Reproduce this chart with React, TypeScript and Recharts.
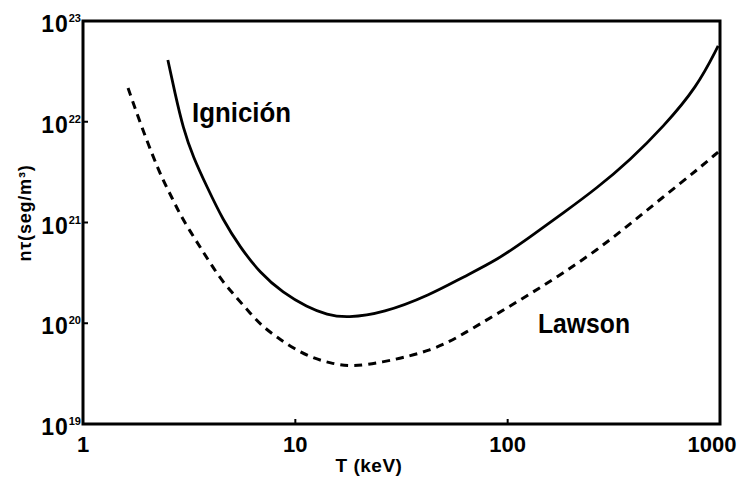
import { LineChart, Line, XAxis, YAxis, ReferenceArea, Label } from "recharts";

// T (keV) and n·tau (seg/m^3)
const ignitionT = [2.51, 2.71, 2.96, 3.3, 3.84, 4.56, 5.49, 6.82, 8.75, 11.36, 14.11, 17.52, 25.9, 43.1, 61.7, 89.2, 127.5, 182.4, 263.8, 377.2, 539.5, 780, 980];
const ignitionNT = [4.1e22, 1.93e22, 8.66e21, 4.47e21, 2.25e21, 1.06e21, 5.71e20, 3.15e20, 2.0e20, 1.45e20, 1.21e20, 1.13e20, 1.26e20, 1.91e20, 2.88e20, 4.24e20, 7.18e20, 1.24e21, 2.2e21, 4.17e21, 8.87e21, 2.21e22, 5.65e22];

const lawsonT = [1.63, 1.86, 2.14, 2.38, 2.63, 2.86, 3.19, 3.56, 3.97, 4.56, 5.31, 6.12, 7.05, 8.29, 9.75, 11.99, 14.57, 18.5, 25.9, 34.7, 43.1, 51.8, 61.7, 89.2, 127.5, 182.4, 263.8, 377.2, 539.5, 780, 980];
const lawsonNT = [2.16e22, 9.73e21, 4.47e21, 2.64e21, 1.75e21, 1.21e21, 8.24e20, 5.71e20, 3.96e20, 2.56e20, 1.78e20, 1.26e20, 9.18e19, 7.14e19, 5.68e19, 4.52e19, 4.03e19, 3.68e19, 4.12e19, 4.73e19, 5.43e19, 6.37e19, 7.82e19, 1.24e20, 1.95e20, 3.15e20, 5.34e20, 9.66e20, 1.79e21, 3.32e21, 5.01e21];

const tempTicks = [1, 10, 100, 1000];
const tempLabels = ["1", "10", "100", "1000"];
const ntTicks = [1e19, 1e20, 1e21, 1e22, 1e23];
const ntExponents = ["19", "20", "21", "22", "23"];

const ignition = ignitionT.map((t, i) => ({ t, v: ignitionNT[i] }));
const lawson = lawsonT.map((t, i) => ({ t, v: lawsonNT[i] }));

const FONT = "'Liberation Sans', Arial, Helvetica, sans-serif";

function TempTick(props: any) {
  const { x, y, payload, index } = props;
  const last = payload.value === 1000;
  return (
    <g>
      {index > 0 && !last ? (
        <line x1={x} x2={x} y1={y} y2={y - 5} stroke="#000" strokeWidth={2} />
      ) : null}
      <text
        x={last ? x - 8 : x}
        y={y + 28}
        textAnchor="middle"
        fontFamily={FONT}
        fontWeight={700}
        fontSize={22}
        fill="#000"
      >
        {tempLabels[index]}
      </text>
    </g>
  );
}

function NtTick(props: any) {
  const { x, y, index } = props;
  const inner = index > 0 && index < ntTicks.length - 1;
  return (
    <g>
      {inner ? (
        <line x1={x} x2={x + 5} y1={y} y2={y} stroke="#000" strokeWidth={2} />
      ) : null}
      <text x={x - 2} y={y + 11} textAnchor="end" fontFamily={FONT} fontWeight={700} fill="#000">
        <tspan fontSize={23} letterSpacing={1}>10</tspan>
        <tspan fontSize={11} dy={-10}>
          {ntExponents[index]}
        </tspan>
      </text>
    </g>
  );
}

export default function App() {
  return (
    <div style={{ position: "absolute", left: 0, top: 0, width: 740, height: 477, background: "#fff" }}>
      <LineChart width={740} height={477} margin={{ top: 21, right: 20, left: 0, bottom: 0 }}>
        <XAxis
          type="number"
          dataKey="t"
          scale="log"
          domain={[1, 1000]}
          ticks={tempTicks}
          allowDataOverflow
          axisLine={false}
          tickLine={false}
          tickSize={0}
          tickMargin={0}
          height={53}
          interval={0}
          tick={<TempTick />}
        >
          <Label
            content={() => (
              <text
                x={369}
                y={472}
                textAnchor="middle"
                fontFamily={FONT}
                fontWeight={700}
                fontSize={19}
                letterSpacing={0.5}
                fill="#000"
              >
                T (keV)
              </text>
            )}
          />
        </XAxis>
        <YAxis
          type="number"
          dataKey="v"
          scale="log"
          domain={[1e19, 1e23]}
          ticks={ntTicks}
          allowDataOverflow
          axisLine={false}
          tickLine={false}
          tickSize={0}
          tickMargin={0}
          width={83}
          interval={0}
          tick={<NtTick />}
        >
          <Label
            content={() => (
              <text
                x={31}
                y={213}
                transform="rotate(-90 31 213)"
                textAnchor="middle"
                fontFamily={FONT}
                fontWeight={700}
                fontSize={18}
                letterSpacing={0.8}
                fill="#000"
              >
                nτ(seg/m³)
              </text>
            )}
          />
        </YAxis>
        <Line
          data={lawson}
          dataKey="v"
          type="basis"
          stroke="#000"
          strokeWidth={3}
          strokeDasharray="8 6"
          dot={false}
          activeDot={false}
          isAnimationActive={false}
        />
        <Line
          data={ignition}
          dataKey="v"
          type="basis"
          stroke="#000"
          strokeWidth={2.8}
          dot={false}
          activeDot={false}
          isAnimationActive={false}
        />
        <ReferenceArea x1={1} x2={1000} y1={1e19} y2={1e23} fill="none" stroke="#000" strokeWidth={3} />
      </LineChart>
      <svg width={740} height={477} style={{ position: "absolute", left: 0, top: 0, pointerEvents: "none" }}>
        <text
          x={192}
          y={122}
          fontFamily={FONT}
          fontWeight={700}
          fontSize={27}
          textLength={99}
          lengthAdjust="spacingAndGlyphs"
          fill="#000"
        >
          Ignición
        </text>
        <text
          x={538}
          y={333}
          fontFamily={FONT}
          fontWeight={700}
          fontSize={27}
          textLength={92}
          lengthAdjust="spacingAndGlyphs"
          fill="#000"
        >
          Lawson
        </text>
      </svg>
    </div>
  );
}
